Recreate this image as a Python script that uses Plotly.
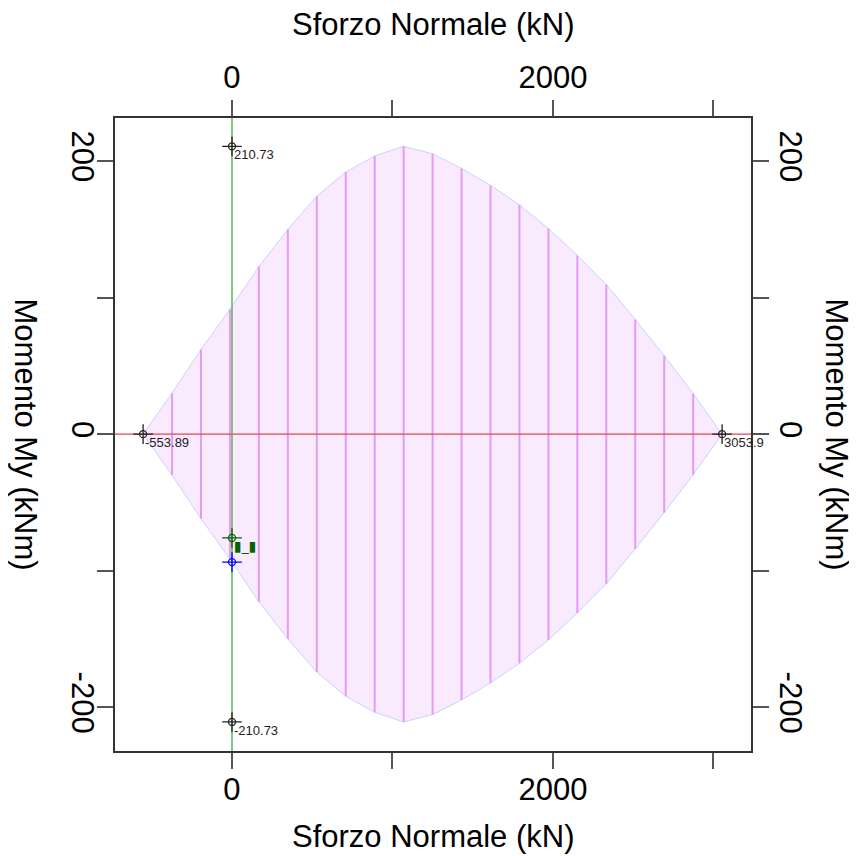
import plotly.graph_objects as go

# Interaction domain N - My
N_pts = [-553.89, -373.5, -193.1, -12.7, 167.7, 348.1, 528.4, 708.8, 889.2, 1069.6,
         1250.0, 1430.4, 1610.8, 1791.2, 1971.6, 2152.0, 2332.4, 2512.7, 2693.1, 2873.5, 3053.9]
M_up = [0, 30, 62, 91.5, 122.7, 150, 174.2, 191.9, 203.7, 210.73,
        205.3, 194.6, 182.2, 167.8, 150.7, 130.9, 109.5, 84, 57.5, 29.7, 0]

# key points
key_N = [0, 0, -553.89, 3053.9]
key_M = [210.73, -210.73, 0, 0]
key_lbl = ["210.73", "-210.73", "-553.89", "3053.9"]

load_N = [0]
load_M = [-76]
load_lbl = ["▮_▮"]
res_N = [0]
res_M = [-93.7]

x_range = [-729, 3234]
y_range = [-232, 231.5]
x_ticks = [0, 1000, 2000, 3000]
x_ticktext = ["0", "", "2000", ""]
y_ticks = [-200, -100, 0, 100, 200]
y_ticktext = ["-200", "", "0", "", "200"]
x_title = "Sforzo Normale (kN)"
y_title = "Momento My (kNm)"

FONT = "Liberation Sans, Arial, sans-serif"
fig = go.Figure()

# filled domain
poly_x = N_pts + N_pts[::-1]
poly_y = M_up + [-m for m in M_up[::-1]]
fig.add_trace(go.Scatter(x=poly_x, y=poly_y, mode="lines", fill="toself",
                         fillcolor="#f9ebfd", line=dict(color="#c6d4fc", width=1),
                         hoverinfo="skip", showlegend=False))

# vertical hatch lines
vx, vy = [], []
for n, m in zip(N_pts[1:-1], M_up[1:-1]):
    vx += [n, n, None]
    vy += [-m, m, None]
fig.add_trace(go.Scatter(x=vx, y=vy, mode="lines", line=dict(color="#e29cf5", width=2),
                         hoverinfo="skip", showlegend=False))

# axes lines
fig.add_trace(go.Scatter(x=x_range, y=[0, 0], mode="lines", line=dict(color="#e8454f", width=1.2),
                         hoverinfo="skip", showlegend=False))
fig.add_trace(go.Scatter(x=[0, 0], y=y_range, mode="lines", line=dict(color="#5cb25c", width=1.5),
                         hoverinfo="skip", showlegend=False))

# markers (circle + crosshair)
def cross_marker(xs, ys, color):
    fig.add_trace(go.Scatter(x=xs, y=ys, mode="markers",
                             marker=dict(symbol="circle-open", size=7, color=color, line=dict(width=1.3, color=color)),
                             hoverinfo="skip", showlegend=False))
    fig.add_trace(go.Scatter(x=xs, y=ys, mode="markers",
                             marker=dict(symbol="cross-thin-open", size=14, color=color, line=dict(width=1.3, color=color)),
                             hoverinfo="skip", showlegend=False))

cross_marker(key_N, key_M, "#222222")
cross_marker(load_N, load_M, "#006400")
cross_marker(res_N, res_M, "#0000ff")

for n, m, t in zip(key_N, key_M, key_lbl):
    fig.add_annotation(x=n, y=m, text=t, showarrow=False, xanchor="left", yanchor="top",
                       xshift=0, yshift=1, font=dict(family=FONT, size=13, color="#222222"))
for n, m, t in zip(load_N, load_M, load_lbl):
    fig.add_annotation(x=n, y=m, text=t, showarrow=False, xanchor="left", yanchor="top",
                       xshift=0, yshift=2, font=dict(family="DejaVu Sans", size=14, color="#006400"))

axis_common = dict(showline=True, linecolor="#333333", linewidth=1.5, ticks="outside",
                   ticklen=16, tickwidth=1.5, tickcolor="#555555", showgrid=False, zeroline=False,
                   automargin=False,
                   tickfont=dict(family=FONT, size=31, color="#000000"))

PW, PH = 636, 633
ML, MT = 107, 110
fig.update_layout(
    width=857, height=856,
    margin=dict(l=ML, r=857 - ML - PW, t=MT, b=856 - MT - PH),
    paper_bgcolor="white", plot_bgcolor="white",
    xaxis=dict(range=x_range, tickvals=x_ticks, ticktext=x_ticktext,
               side="bottom", ticklabelstandoff=-6, **axis_common),
    xaxis2=dict(range=x_range, tickvals=x_ticks, ticktext=x_ticktext, overlaying="x", side="top",
                ticklabelstandoff=0, **axis_common),
    yaxis=dict(range=y_range, tickvals=y_ticks, ticktext=y_ticktext, tickangle=90,
               side="left", ticklabelstandoff=-12, **axis_common),
    yaxis2=dict(range=y_range, tickvals=y_ticks, ticktext=y_ticktext, tickangle=90, overlaying="y",
                side="right", ticklabelstandoff=-1, **axis_common),
)

# dummy trace to activate secondary axes
fig.add_trace(go.Scatter(x=[None], y=[None], xaxis="x2", yaxis="y2", showlegend=False, hoverinfo="skip"))

# axis titles (positions relative to the plotting frame)
for yp in [1 + 93 / PH, -85 / PH]:
    fig.add_annotation(x=0.5, y=yp, xref="paper", yref="paper", text=x_title,
                       showarrow=False, xanchor="center", yanchor="middle",
                       font=dict(family=FONT, size=31, color="#000"))
for xp in [-90 / PW, 1 + 85 / PW]:
    fig.add_annotation(x=xp, y=0.5, xref="paper", yref="paper", text=y_title,
                       textangle=90, showarrow=False, xanchor="center", yanchor="middle",
                       font=dict(family=FONT, size=31, color="#000"))

fig.write_html("out.html")
